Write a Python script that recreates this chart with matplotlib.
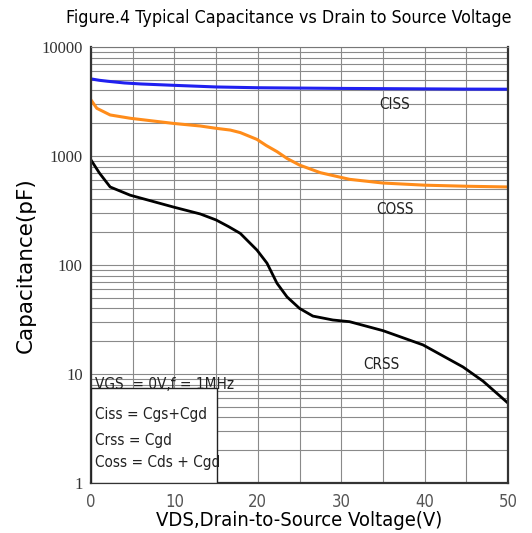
# Typical capacitance vs drain-to-source voltage (log scale)

import numpy as np
import matplotlib.pyplot as plt
from matplotlib import font_manager
from matplotlib.ticker import LogLocator, FixedLocator, NullFormatter
from matplotlib.patches import Rectangle

# curve readings (V, pF)
ciss_v = [0, 1, 2, 4, 6, 10, 15, 20, 25, 30, 35, 40, 45, 50]
ciss_c = [5100, 4950, 4850, 4680, 4580, 4450, 4300, 4230, 4200, 4170, 4150, 4130, 4110, 4100]

coss_v = [0, 0.7, 2.3, 4.7, 9.9, 13.1, 15, 16.7, 17.9, 19.9, 21, 22.3, 23.5, 25, 27.5, 31, 35, 40, 45, 50]
coss_c = [3270, 2740, 2380, 2220, 1990, 1885, 1795, 1730, 1640, 1420, 1250, 1097, 950, 826, 703, 611, 565, 540, 528, 520]

crss_v = [0, 1, 2.3, 4.7, 9.9, 13.1, 15, 16.5, 17.9, 19.9, 21.1, 22.3, 23.5, 25, 26.6, 29, 31, 35, 39.8, 44.6, 47, 50]
crss_c = [920, 700, 520, 437, 340, 294, 259, 225, 195, 137, 104, 68, 51, 40, 34, 31.3, 30.2, 25, 18.5, 11.6, 8.6, 5.4]

x_ticks = [0, 10, 20, 30, 40, 50]
y_ticks = [1, 10, 100, 1000, 10000]
y_labels = ['1', '10', '100', '1000', '10000']

notes = ['VGS  = 0V,f = 1MHz', 'Ciss = Cgs+Cgd', 'Crss = Cgd', 'Coss = Cds + Cgd']

# pick a narrow sans if one is around
fonts = font_manager.fontManager.ttflist
names = {f.name for f in fonts}
if 'Liberation Sans Narrow' in names:
    narrow = dict(family='Liberation Sans Narrow')
elif any(f.name == 'DejaVu Sans' and f.stretch == 'condensed' for f in fonts):
    narrow = dict(family='DejaVu Sans', fontstretch='condensed')
else:
    narrow = dict(family='Liberation Sans')
serif = ['Liberation Serif', 'DejaVu Serif']

fig = plt.figure(figsize=(5.32, 5.33), dpi=100)
ax = fig.add_axes([0.171, 0.0938, 0.784, 0.818])

ax.set_yscale('log')
ax.set_xlim(0, 50)
ax.set_ylim(1, 10000)

# grid
ax.xaxis.set_major_locator(FixedLocator(x_ticks))
ax.xaxis.set_minor_locator(FixedLocator(np.arange(5, 50, 10)))
ax.yaxis.set_major_locator(FixedLocator(y_ticks))
ax.yaxis.set_minor_locator(LogLocator(base=10, subs=np.arange(2, 10)))
ax.yaxis.set_minor_formatter(NullFormatter())
ax.grid(True, which='both', color='#8a8a8a', linewidth=0.8)
ax.set_axisbelow(True)

ax.plot(ciss_v, ciss_c, color='#2020f0', linewidth=2.2)
ax.plot(coss_v, coss_c, color='#ff8c1a', linewidth=2.2)
ax.plot(crss_v, crss_c, color='black', linewidth=2.0)

ax.text(36.4, 2950, 'CISS', **narrow, fontsize=11, ha='center', va='center', color='#222')
ax.text(36.4, 320, 'COSS', **narrow, fontsize=11, ha='center', va='center', color='#222')
ax.text(34.8, 12.1, 'CRSS', **narrow, fontsize=11, ha='center', va='center', color='#222')

# condition box
ax.add_patch(Rectangle((0, 0), 0.302, 0.218, transform=ax.transAxes,
                       facecolor='white', edgecolor='#222', linewidth=1.0, zorder=3))
for yy, s in zip([0.225, 0.156, 0.0986, 0.0459], notes):
    ax.text(0.01, yy, s, transform=ax.transAxes, **narrow, fontsize=11,
            va='center', ha='left', color='#222', zorder=4)

ax.set_xticks(x_ticks)
ax.set_xticklabels([str(t) for t in x_ticks], **narrow, fontsize=12, color='#555')
ax.set_yticks(y_ticks)
ax.set_yticklabels(y_labels, family=serif, fontsize=12, color='#333')
ax.tick_params(which='both', length=0, pad=6)
ax.tick_params(axis='x', pad=7)

for side in ['left', 'bottom', 'right']:
    ax.spines[side].set_color('#333')
    ax.spines[side].set_linewidth(1.6)
ax.spines['top'].set_color('#777')

ax.set_xlabel('VDS,Drain-to-Source Voltage(V)', **narrow, fontsize=14.5, labelpad=0)
ax.set_ylabel('Capacitance(pF)', fontsize=15.5, labelpad=4)

fig.text(66 / 532, 1 - 18 / 533, 'Figure.4 Typical Capacitance vs Drain to Source Voltage',
         **narrow, fontsize=12.8, ha='left', va='center')

plt.savefig('out.png', dpi=100)
